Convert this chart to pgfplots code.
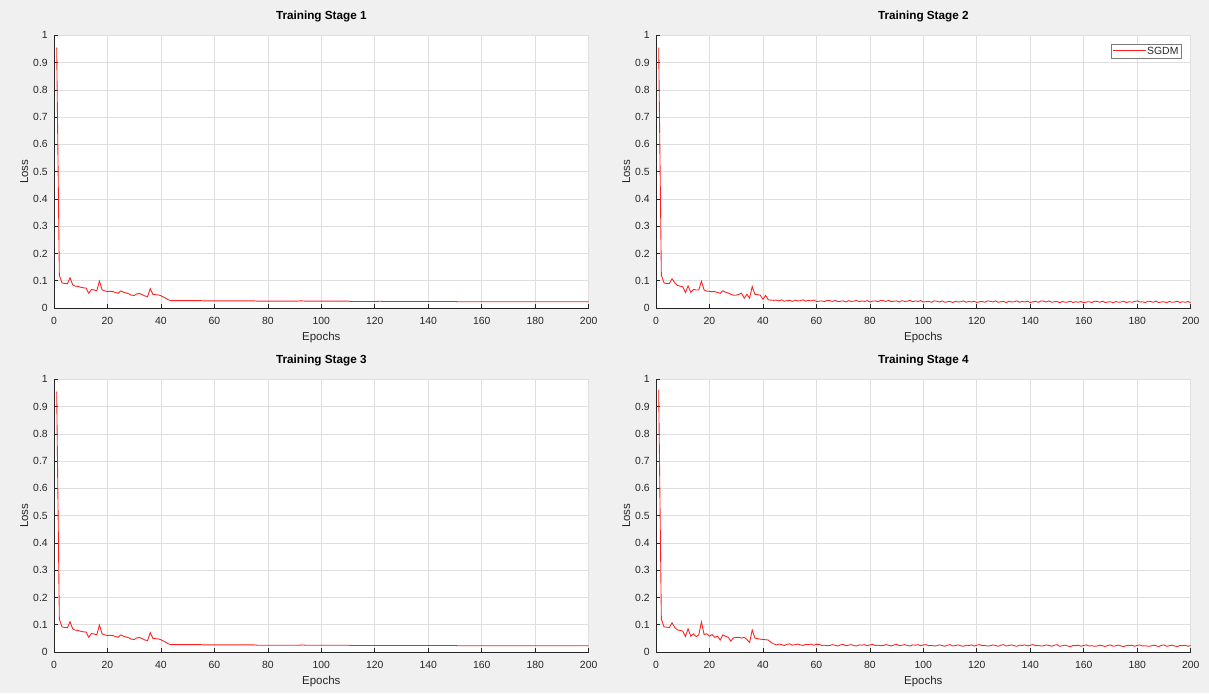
\documentclass[border=0pt]{standalone}
\usepackage{pgfplots}
\pgfplotsset{compat=1.18}
\usepackage{pgfplotstable}
\usepackage{fontspec}
\setmainfont{Liberation Sans}
\definecolor{figbg}{HTML}{F0F0F0}
\definecolor{axcol}{HTML}{262626}
\definecolor{gridcol}{HTML}{DFDFDF}
\definecolor{lossred}{HTML}{FF2020}
\definecolor{legbox}{HTML}{7A7A7A}
\newcommand\tickfont{\fontsize{7.8}{9}\selectfont}
\newcommand\labelfont{\fontsize{8.6}{10}\selectfont}
\newcommand\titlefont{\bfseries\fontsize{8.8}{10}\selectfont}

\pgfplotstableread{
e a b c d
1 0.955 0.955 0.955 0.960
2 0.120 0.120 0.120 0.120
3 0.092 0.092 0.092 0.092
4 0.090 0.090 0.090 0.091
5 0.089 0.090 0.089 0.090
6 0.111 0.107 0.111 0.107
7 0.085 0.093 0.085 0.090
8 0.080 0.083 0.080 0.081
9 0.079 0.080 0.079 0.079
10 0.076 0.078 0.076 0.077
11 0.074 0.057 0.074 0.057
12 0.073 0.081 0.073 0.085
13 0.054 0.058 0.054 0.058
14 0.068 0.068 0.068 0.066
15 0.066 0.066 0.066 0.056
16 0.063 0.066 0.063 0.063
17 0.099 0.098 0.099 0.110
18 0.066 0.066 0.066 0.064
19 0.063 0.062 0.063 0.067
20 0.060 0.061 0.060 0.058
21 0.061 0.060 0.061 0.064
22 0.060 0.060 0.060 0.054
23 0.057 0.057 0.057 0.058
24 0.054 0.054 0.054 0.044
25 0.063 0.063 0.063 0.063
26 0.058 0.058 0.058 0.058
27 0.055 0.055 0.055 0.054
28 0.052 0.050 0.052 0.040
29 0.047 0.047 0.047 0.052
30 0.046 0.047 0.046 0.053
31 0.052 0.050 0.052 0.054
32 0.053 0.054 0.053 0.051
33 0.049 0.036 0.049 0.054
34 0.044 0.050 0.044 0.046
35 0.042 0.036 0.042 0.035
36 0.071 0.079 0.071 0.081
37 0.050 0.050 0.050 0.051
38 0.049 0.049 0.049 0.049
39 0.048 0.047 0.048 0.047
40 0.045 0.032 0.045 0.046
41 0.040 0.046 0.040 0.045
42 0.034 0.030 0.034 0.044
43 0.029 0.029 0.029 0.035
44 0.027 0.028 0.027 0.030
45 0.027 0.029 0.027 0.026
46 0.027 0.026 0.027 0.029
47 0.027 0.030 0.027 0.027
48 0.027 0.025 0.027 0.024
49 0.027 0.027 0.027 0.028
50 0.027 0.028 0.027 0.030
51 0.027 0.024 0.027 0.025
52 0.027 0.029 0.027 0.027
53 0.027 0.026 0.027 0.029
54 0.027 0.027 0.027 0.026
55 0.027 0.030 0.027 0.024
56 0.026 0.025 0.026 0.028
57 0.026 0.028 0.026 0.027
58 0.026 0.026 0.026 0.029
59 0.026 0.029 0.026 0.025
60 0.026 0.024 0.026 0.028
61 0.026 0.025 0.026 0.028
62 0.026 0.026 0.026 0.024
63 0.026 0.023 0.026 0.025
64 0.026 0.028 0.026 0.023
65 0.026 0.027 0.026 0.024
66 0.026 0.024 0.026 0.027
67 0.026 0.028 0.026 0.025
68 0.026 0.023 0.026 0.022
69 0.026 0.025 0.026 0.026
70 0.026 0.026 0.026 0.028
71 0.026 0.022 0.026 0.023
72 0.026 0.027 0.026 0.025
73 0.026 0.024 0.026 0.027
74 0.026 0.025 0.026 0.024
75 0.026 0.028 0.026 0.022
76 0.025 0.023 0.025 0.026
77 0.025 0.026 0.025 0.025
78 0.025 0.024 0.025 0.027
79 0.025 0.027 0.025 0.023
80 0.025 0.022 0.025 0.026
81 0.025 0.025 0.025 0.028
82 0.025 0.026 0.025 0.024
83 0.025 0.023 0.025 0.025
84 0.025 0.028 0.025 0.023
85 0.025 0.027 0.025 0.024
86 0.025 0.024 0.025 0.027
87 0.025 0.028 0.025 0.025
88 0.025 0.023 0.025 0.022
89 0.025 0.025 0.025 0.026
90 0.025 0.026 0.025 0.028
91 0.025 0.022 0.025 0.023
92 0.026 0.027 0.025 0.025
93 0.026 0.024 0.026 0.027
94 0.025 0.025 0.025 0.024
95 0.025 0.028 0.025 0.022
96 0.025 0.023 0.025 0.026
97 0.025 0.026 0.025 0.025
98 0.025 0.024 0.025 0.027
99 0.025 0.027 0.025 0.023
100 0.025 0.022 0.025 0.026
101 0.025 0.023 0.025 0.027
102 0.025 0.024 0.025 0.023
103 0.025 0.021 0.025 0.024
104 0.025 0.026 0.025 0.022
105 0.025 0.025 0.025 0.023
106 0.025 0.022 0.025 0.026
107 0.025 0.026 0.025 0.024
108 0.025 0.021 0.025 0.021
109 0.025 0.023 0.025 0.025
110 0.025 0.024 0.025 0.027
111 0.024 0.020 0.024 0.022
112 0.024 0.025 0.024 0.024
113 0.024 0.022 0.024 0.026
114 0.024 0.023 0.024 0.023
115 0.024 0.026 0.024 0.021
116 0.024 0.021 0.024 0.025
117 0.024 0.024 0.024 0.024
118 0.024 0.022 0.024 0.026
119 0.024 0.025 0.024 0.022
120 0.024 0.020 0.024 0.025
121 0.024 0.023 0.024 0.027
122 0.025 0.024 0.024 0.023
123 0.024 0.021 0.024 0.024
124 0.024 0.026 0.024 0.022
125 0.024 0.025 0.024 0.023
126 0.024 0.022 0.024 0.026
127 0.024 0.026 0.024 0.024
128 0.024 0.021 0.024 0.021
129 0.024 0.023 0.024 0.025
130 0.024 0.024 0.024 0.027
131 0.024 0.020 0.024 0.022
132 0.024 0.025 0.024 0.024
133 0.024 0.022 0.024 0.026
134 0.024 0.023 0.024 0.023
135 0.024 0.026 0.024 0.021
136 0.024 0.021 0.024 0.025
137 0.024 0.024 0.024 0.024
138 0.024 0.022 0.024 0.026
139 0.024 0.025 0.024 0.022
140 0.024 0.020 0.024 0.025
141 0.024 0.023 0.024 0.027
142 0.024 0.024 0.024 0.023
143 0.024 0.021 0.024 0.024
144 0.024 0.026 0.024 0.022
145 0.024 0.025 0.024 0.023
146 0.024 0.022 0.024 0.026
147 0.024 0.026 0.024 0.024
148 0.024 0.021 0.024 0.021
149 0.024 0.023 0.024 0.025
150 0.024 0.024 0.024 0.027
151 0.023 0.019 0.023 0.021
152 0.023 0.024 0.023 0.023
153 0.023 0.021 0.023 0.025
154 0.023 0.022 0.023 0.022
155 0.023 0.025 0.023 0.020
156 0.023 0.020 0.023 0.024
157 0.023 0.023 0.023 0.023
158 0.023 0.021 0.023 0.025
159 0.023 0.024 0.023 0.021
160 0.023 0.019 0.023 0.024
161 0.023 0.022 0.023 0.026
162 0.023 0.023 0.023 0.022
163 0.023 0.020 0.023 0.023
164 0.023 0.025 0.023 0.021
165 0.023 0.024 0.023 0.022
166 0.023 0.021 0.023 0.025
167 0.023 0.025 0.023 0.023
168 0.023 0.020 0.023 0.020
169 0.023 0.022 0.023 0.024
170 0.023 0.023 0.023 0.026
171 0.023 0.019 0.023 0.021
172 0.023 0.024 0.023 0.023
173 0.023 0.021 0.023 0.025
174 0.023 0.022 0.023 0.022
175 0.023 0.025 0.023 0.020
176 0.023 0.020 0.023 0.024
177 0.023 0.023 0.023 0.023
178 0.023 0.021 0.023 0.025
179 0.023 0.024 0.023 0.021
180 0.023 0.026 0.023 0.024
181 0.023 0.022 0.023 0.026
182 0.023 0.023 0.023 0.022
183 0.023 0.020 0.023 0.023
184 0.023 0.025 0.023 0.021
185 0.023 0.024 0.023 0.022
186 0.023 0.021 0.023 0.025
187 0.023 0.025 0.023 0.023
188 0.023 0.020 0.023 0.020
189 0.023 0.022 0.023 0.024
190 0.023 0.023 0.023 0.026
191 0.023 0.019 0.023 0.021
192 0.023 0.024 0.023 0.023
193 0.023 0.021 0.023 0.025
194 0.023 0.022 0.023 0.022
195 0.023 0.025 0.023 0.020
196 0.023 0.020 0.023 0.024
197 0.023 0.023 0.023 0.023
198 0.023 0.021 0.023 0.025
199 0.023 0.024 0.023 0.021
200 0.023 0.019 0.023 0.024
}\loss

\pgfplotsset{
  stage/.style={
    anchor=south west,
    scale only axis, width=401pt, height=204.5pt,
    xmin=0, xmax=200, ymin=0, ymax=1,
    xtick={0,20,40,60,80,100,120,140,160,180,200},
    ytick={0,0.1,0.2,0.3,0.4,0.5,0.6,0.7,0.8,0.9,1},
    yticklabels={0,0.1,0.2,0.3,0.4,0.5,0.6,0.7,0.8,0.9,1},
    axis lines=left,
    axis line style={-, draw=axcol, line width=0.5pt},
    axis background/.style={fill=white},
    grid=major,
    major grid style={draw=gridcol, line width=0.5pt},
    tick align=inside, major tick length=3pt,
    tick style={draw=axcol, line width=0.5pt},
    tick label style={font=\tickfont, text=axcol},
    /pgf/number format/assume math mode=true,
    xticklabel style={anchor=base, yshift=-12.5pt},
    yticklabel style={xshift=-1.2pt},
    xlabel={Epochs}, ylabel={Loss},
    label style={font=\labelfont, text=axcol},
    xlabel style={at={(axis description cs:0.5,-0.1174)}, anchor=base},
    ylabel style={at={(axis description cs:-0.0486,0.5)}, anchor=base},
    title style={at={(axis description cs:0.5,1)}, anchor=base, yshift=6pt, font=\titlefont, text=black},
  },
  lossline/.style={color=lossred, line width=0.65pt, no markers},
}

\begin{document}
\begin{tikzpicture}
\fill[figbg] (0,0) rectangle (906.75pt,519.75pt);

\begin{axis}[stage, at={(40.5pt,288.75pt)}, title={Training Stage 1}]
\addplot[lossline] table[x=e, y=a] {\loss};
\end{axis}

\begin{axis}[stage, at={(492pt,288.75pt)}, title={Training Stage 2},
  legend style={at={(axis description cs:1,1)}, anchor=north east, xshift=-6.75pt, yshift=-6.75pt,
    draw=legbox, line width=0.5pt, fill=white, font=\fontsize{7.8}{9}\selectfont,
    inner xsep=1.2pt, inner ysep=0.6pt, nodes={inner sep=1pt}},
  legend image code/.code={\node[inner sep=0pt, anchor=west] at (0pt,0pt) {\textcolor{lossred}{\rule[-0.33pt]{25pt}{0.66pt}}};},
]
\addplot[lossline] table[x=e, y=b] {\loss};
\addlegendentry{\textcolor{axcol}{SGDM}}
\end{axis}

\begin{axis}[stage, at={(40.5pt,30.75pt)}, title={Training Stage 3}]
\addplot[lossline] table[x=e, y=c] {\loss};
\end{axis}

\begin{axis}[stage, at={(492pt,30.75pt)}, title={Training Stage 4}]
\addplot[lossline] table[x=e, y=d] {\loss};
\end{axis}

\pgfresetboundingbox
\path (0,0) rectangle (906.75pt,519.75pt);
\end{tikzpicture}
\end{document}
